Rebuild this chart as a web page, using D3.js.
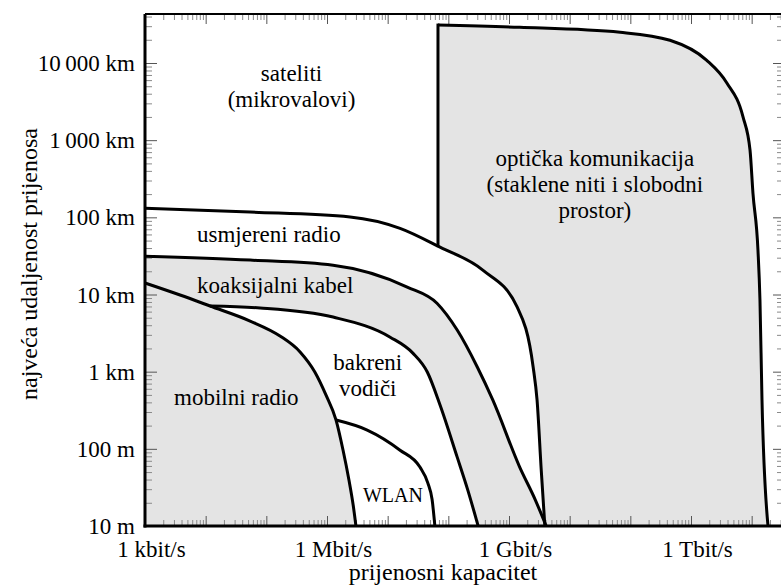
<!DOCTYPE html>
<html>
<head>
<meta charset="utf-8">
<script src="https://cdn.jsdelivr.net/npm/d3@7"></script>
<style>
  body { margin: 0; background: #fff; }
  svg { display: block; }
  svg text { font-family: "Liberation Serif", "Times New Roman", serif; }
</style>
</head>
<body>
<svg id="chart" width="781" height="587"></svg>
<script>
// all points are [capacity in bit/s, distance in metres]
const usmjereniRadio = [[1e3, 131000], [5.4e4, 117000], [2.4e6, 101000], [1.6e7, 72000], [7.3e7, 41000],
  [3.7e8, 20700], [1.36e9, 6900], [2.5e9, 1150], [2.9e9, 430], [3.4e9, 53], [3.9e9, 10]];
const koaksijalniKabel = [[1e3, 31400], [5.4e4, 27900], [1.26e6, 24000], [2.1e7, 12500], [6.5e7, 7700],
  [1.4e8, 3460], [3.0e8, 1150], [5.4e8, 430], [1.5e9, 58], [2.7e9, 22], [4.1e9, 10]];
const bakreniVodici = [[1.18e4, 7090], [7.9e4, 6700], [1.26e6, 5100], [1.1e7, 2800], [2.6e7, 1740],
  [4.5e7, 990], [7.3e7, 370], [1.4e8, 78], [2.1e8, 29], [3.1e8, 10]];
const mobilniRadio = [[1e3, 14100], [3.78e3, 9850], [1.18e4, 7090], [5.4e4, 4530], [1.68e5, 2900],
  [3.6e5, 1800], [6.3e5, 990], [9.6e5, 500], [1.41e6, 236], [1.84e6, 96],
  [2.3e6, 39.5], [2.7e6, 18.7], [3.0e6, 10]];
const wlan = [[1.41e6, 236], [4.6e6, 175], [1.6e7, 96], [3.4e7, 58], [4.6e7, 36], [5.4e7, 22], [6.0e7, 10]];
const optickaRub = [[6.75e7, 3.1e7], [1.5e9, 2.9e7], [6.8e10, 2.5e7], [4.5e11, 1.97e7], [1.8e12, 1.09e7],
  [3.9e12, 5.5e6], [7.2e12, 2.0e6], [9.4e12, 7.4e5], [1.05e13, 2.06e5], [1.27e13, 37600],
  [1.37e13, 8500], [1.48e13, 430], [1.86e13, 10]];
const optickaPodnozje = [6.75e7, 43000]; // where the vertical edge meets the radio curve

const xTicks = [1e3, 1e6, 1e9, 1e12];
const xTickLabels = ["1 kbit/s", "1 Mbit/s", "1 Gbit/s", "1 Tbit/s"];
const yTicks = [10, 100, 1e3, 1e4, 1e5, 1e6, 1e7];
const yTickLabels = ["10 m", "100 m", "1 km", "10 km", "100 km", "1\u2009000 km", "10\u2009000 km"];

const regionLabels = [
  { lines: ["sateliti", "(mikrovalovi)"], x: 2.6e5, y: 5.8e6, size: 23 },
  { lines: ["optička komunikacija", "(staklene niti i slobodni", "prostor)"], x: 2.6e10, y: 4.6e5, size: 23 },
  { lines: ["usmjereni radio"], x: 1.1e5, y: 48000, size: 23 },
  { lines: ["koaksijalni kabel"], x: 1.4e5, y: 10500, size: 23 },
  { lines: ["bakreni", "vodiči"], x: 4.7e6, y: 1050, size: 23 },
  { lines: ["mobilni radio"], x: 3.2e4, y: 370, size: 23 },
  { lines: ["WLAN"], x: 1.22e7, y: 20.5, size: 20 }
];

const svg = d3.select("#chart");
const plot = { left: 145, right: 782, top: 14, bottom: 526 };
const fill = "#e4e4e4";
const serif = "Liberation Serif, Times New Roman, serif";

const x = d3.scaleLog().domain([1e3, 1e12]).range([plot.left, 691]);
const y = d3.scaleLog().domain([10, 1e7]).range([plot.bottom, 63]);

const line = d3.line().x(d => x(d[0])).y(d => y(d[1])).curve(d3.curveMonotoneX);
const seg = pts => line(pts).replace(/^M/, "L");
const P = d => `${x(d[0])},${y(d[1])}`;

// fills, painted back to front
const g = svg.append("g");
g.append("path")
  .attr("d", "M" + P(koaksijalniKabel[0]) + seg(koaksijalniKabel) + `L${plot.left},${plot.bottom}Z`)
  .attr("fill", fill);
g.append("path")
  .attr("d", "M" + P(bakreniVodici[0]) + seg(bakreniVodici) + `L${plot.left},${plot.bottom}L${P(mobilniRadio[0])}Z`)
  .attr("fill", "#fff");
g.append("path")
  .attr("d", "M" + P(mobilniRadio[0]) + seg(mobilniRadio) + `L${plot.left},${plot.bottom}Z`)
  .attr("fill", fill);
const tail = [optickaPodnozje].concat(usmjereniRadio.filter(d => d[0] > optickaPodnozje[0]));
g.append("path")
  .attr("d", line(tail) + `L${P(optickaRub[optickaRub.length - 1])}` +
    seg(optickaRub.slice().reverse()) + "Z")
  .attr("fill", fill);

// ticks
const decadesX = d3.range(3, 14).map(k => Math.pow(10, k)).filter(v => x(v) > plot.left && x(v) < plot.right);
const minorX = d3.range(3, 14).flatMap(k => d3.range(2, 10).map(m => m * Math.pow(10, k)))
  .filter(v => x(v) < plot.right);
const decadesY = d3.range(1, 8).map(k => Math.pow(10, k)).filter(v => y(v) < plot.bottom);
const minorY = d3.range(1, 8).flatMap(k => d3.range(2, 10).map(m => m * Math.pow(10, k)))
  .filter(v => y(v) > plot.top);

function tickAxis(axis, vals, size, color, transform) {
  const a = g.append("g").attr("transform", transform)
    .call(axis.tickValues(vals).tickSize(size).tickFormat(""));
  a.select(".domain").remove();
  a.selectAll("line").attr("stroke", color).attr("stroke-width", 1);
}
tickAxis(d3.axisBottom(x), minorX, -5, "#8a8a8a", `translate(0,${plot.bottom - 1})`);
tickAxis(d3.axisBottom(x), decadesX, -9, "#555", `translate(0,${plot.bottom - 1})`);
tickAxis(d3.axisTop(x), minorX, -5, "#8a8a8a", `translate(0,${plot.top + 1})`);
tickAxis(d3.axisTop(x), decadesX, -9, "#555", `translate(0,${plot.top + 1})`);
tickAxis(d3.axisLeft(y), minorY, -6, "#8a8a8a", `translate(${plot.left + 1},0)`);
tickAxis(d3.axisLeft(y), decadesY, -11, "#555", `translate(${plot.left + 1},0)`);
tickAxis(d3.axisRight(y), minorY, -4, "#8a8a8a", `translate(781,0)`);
tickAxis(d3.axisRight(y), decadesY, -8, "#555", `translate(781,0)`);

// curves
const curves = [usmjereniRadio, koaksijalniKabel, bakreniVodici, mobilniRadio, wlan, optickaRub];
g.selectAll(".curve").data(curves).enter().append("path")
  .attr("class", "curve")
  .attr("d", line)
  .attr("fill", "none")
  .attr("stroke", "#000")
  .attr("stroke-width", 3)
  .attr("stroke-linejoin", "round");
g.append("line")
  .attr("x1", x(optickaPodnozje[0])).attr("x2", x(optickaPodnozje[0]))
  .attr("y1", y(optickaPodnozje[1])).attr("y2", y(optickaRub[0][1]))
  .attr("stroke", "#000").attr("stroke-width", 3).attr("stroke-linecap", "square");

// frame
g.append("line").attr("x1", plot.left).attr("x2", plot.left).attr("y1", plot.top).attr("y2", plot.bottom + 1.5)
  .attr("stroke", "#000").attr("stroke-width", 3);
g.append("line").attr("x1", plot.left - 1.5).attr("x2", plot.right).attr("y1", plot.bottom).attr("y2", plot.bottom)
  .attr("stroke", "#000").attr("stroke-width", 3);
g.append("line").attr("x1", plot.left).attr("x2", plot.right).attr("y1", plot.top).attr("y2", plot.top)
  .attr("stroke", "#000").attr("stroke-width", 2);

// axis labels
const xl = g.append("g").attr("transform", `translate(0,${plot.bottom})`)
  .call(d3.axisBottom(x).tickValues(xTicks).tickSize(0).tickFormat((d, i) => xTickLabels[i]));
xl.select(".domain").remove();
xl.attr("font-family", serif);
xl.selectAll("text").attr("y", 31).attr("dy", 0).attr("dx", 6)
  .attr("font-size", 23).attr("font-family", serif).attr("fill", "#000");

const yl = g.append("g").attr("transform", `translate(${plot.left},0)`)
  .call(d3.axisLeft(y).tickValues(yTicks).tickSize(0).tickFormat((d, i) => yTickLabels[i]));
yl.select(".domain").remove();
yl.attr("font-family", serif);
yl.selectAll("text").attr("x", -10).attr("dy", "0.33em")
  .attr("font-size", 23).attr("font-family", serif).attr("fill", "#000");

svg.append("text").attr("x", 443).attr("y", 580).attr("text-anchor", "middle")
  .attr("font-family", serif).attr("font-size", 24).text("prijenosni kapacitet");
svg.append("text").attr("transform", "translate(37,264) rotate(-90)").attr("text-anchor", "middle")
  .attr("font-family", serif).attr("font-size", 24).text("najveća udaljenost prijenosa");

// region names
regionLabels.forEach(r => {
  const t = svg.append("text").attr("text-anchor", "middle")
    .attr("font-family", serif).attr("font-size", r.size);
  r.lines.forEach((s, i) => {
    t.append("tspan").attr("x", x(r.x)).attr("y", y(r.y) + i * 26).text(s);
  });
});
</script>
</body>
</html>
